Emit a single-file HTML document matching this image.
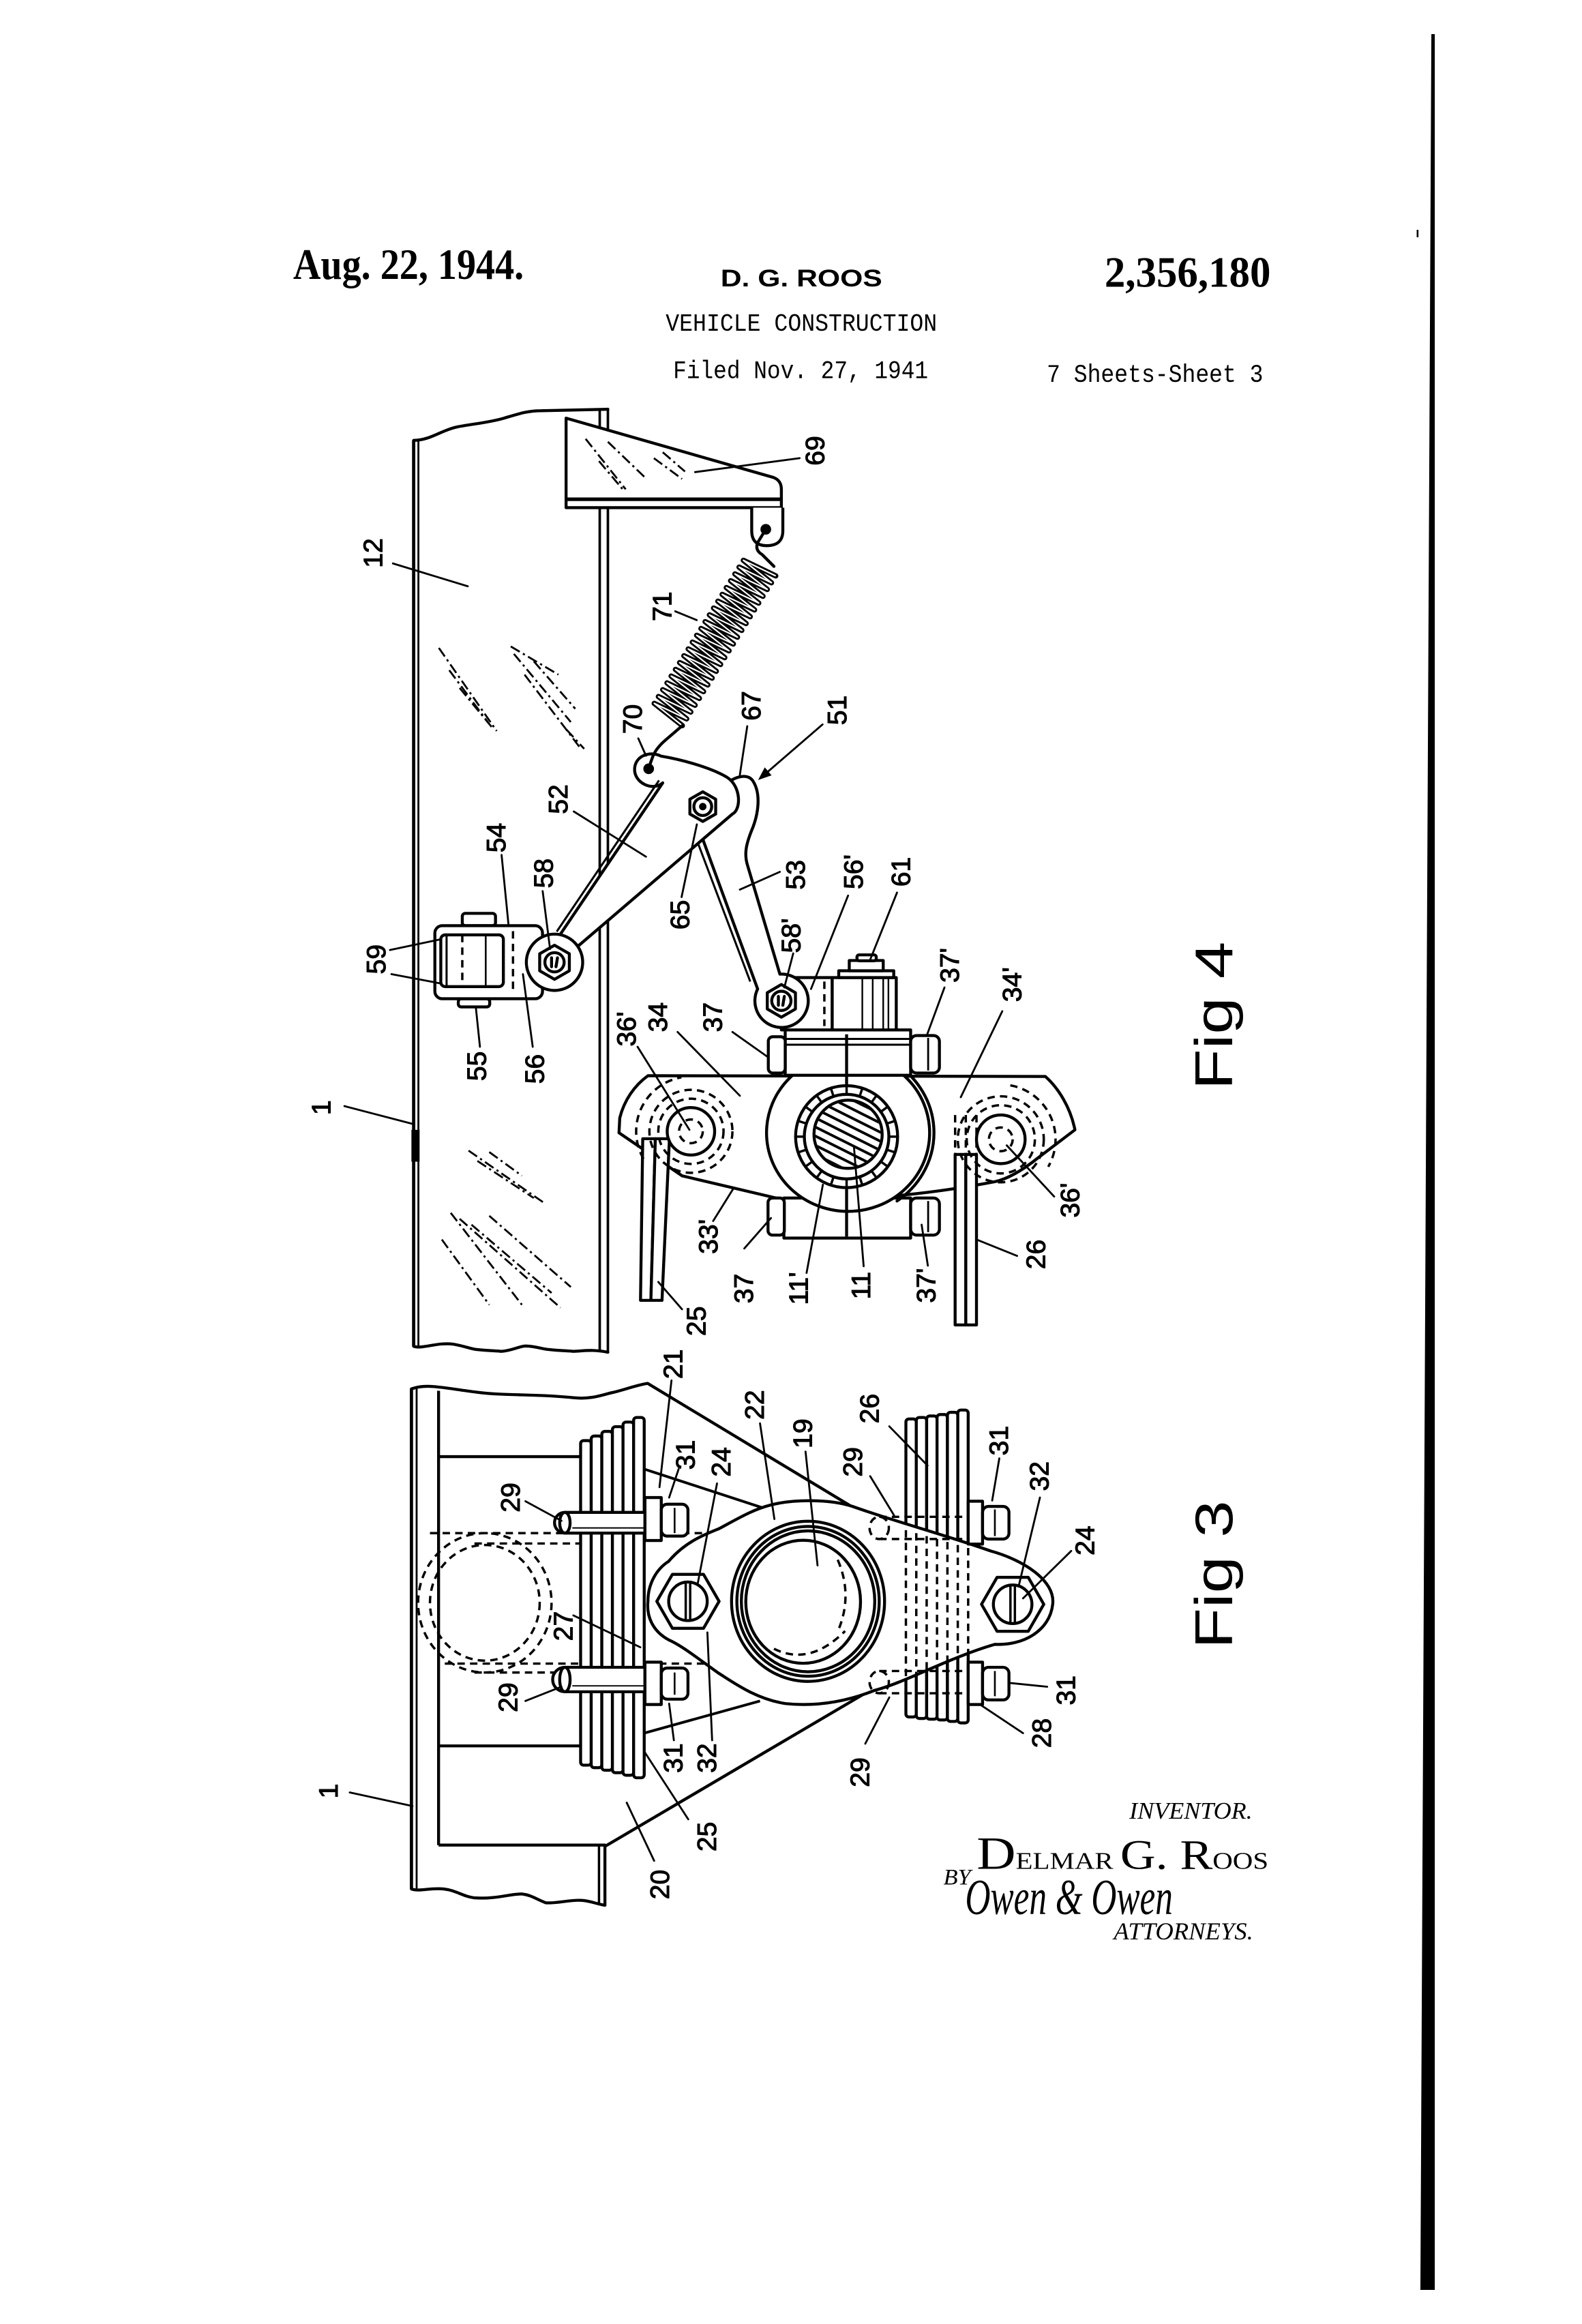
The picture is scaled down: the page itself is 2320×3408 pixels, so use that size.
<!DOCTYPE html>
<html><head><meta charset="utf-8"><style>
html,body{margin:0;padding:0;background:#fff}
svg{display:block}
</style></head><body>
<svg xmlns="http://www.w3.org/2000/svg" width="2320" height="3408" viewBox="0 0 1067 1567.4" preserveAspectRatio="none">
<defs>
<style>
.s{fill:none;stroke:#000;stroke-width:2;stroke-linejoin:round;stroke-linecap:round}
.w{fill:#fff;stroke:#000;stroke-width:2;stroke-linejoin:round}
.l{fill:none;stroke:#000;stroke-width:1.3;stroke-linecap:round}
.d{fill:none;stroke:#000;stroke-width:1.6;stroke-dasharray:5 3.5}
.h{fill:none;stroke:#000;stroke-width:1.3;stroke-dasharray:7 2.5 1.5 2.5}
.n{font-family:"Liberation Sans",sans-serif;font-size:18px;fill:#000;stroke:#000;stroke-width:0.5}
</style>
<clipPath id="sh"><circle cx="572" cy="765" r="22"/></clipPath>
</defs>
<rect x="0" y="0" width="1067" height="1567.4" fill="#fff"/>

<!-- HEADER -->
<text x="197.7" y="188" font-family="Liberation Serif" font-weight="bold" font-size="29" textLength="155.6" lengthAdjust="spacingAndGlyphs">Aug. 22, 1944.</text>
<text x="486" y="193.2" font-family="Liberation Sans" font-weight="bold" font-size="16" textLength="109" lengthAdjust="spacingAndGlyphs">D. G. ROOS</text>
<text x="745" y="193.5" font-family="Liberation Serif" font-weight="bold" font-size="29" textLength="112" lengthAdjust="spacingAndGlyphs">2,356,180</text>
<text x="449" y="223" font-family="Liberation Mono" font-size="16.5" textLength="183" lengthAdjust="spacingAndGlyphs">VEHICLE CONSTRUCTION</text>
<text x="454" y="255" font-family="Liberation Mono" font-size="17" textLength="172" lengthAdjust="spacingAndGlyphs">Filed Nov. 27, 1941</text>
<text x="706" y="257.5" font-family="Liberation Mono" font-size="17" textLength="146" lengthAdjust="spacingAndGlyphs">7 Sheets-Sheet 3</text>

<!-- right bar -->
<polygon points="965.4,23 967.7,23 967.7,1544.4 958,1544.4" fill="#000"/>
<rect x="955.5" y="155" width="1.2" height="5" fill="#000"/>

<!-- ================= FIG 4 ================= -->
<line x1="279" y1="297" x2="279" y2="908" stroke="#000" stroke-width="2.2"/>
<line x1="282.2" y1="297" x2="282.2" y2="908" stroke="#000" stroke-width="1.3"/>
<rect x="277.5" y="762" width="5.5" height="21.5" fill="#000"/>
<path class="s" d="M279,297 C290,297 298,290 308,288 C318,286 330,285 340,282 C350,279 356,277 365,277 L410,276"/>
<line x1="404.5" y1="277" x2="404.5" y2="911" stroke="#000" stroke-width="1.7"/>
<line x1="410" y1="276" x2="410" y2="912" stroke="#000" stroke-width="1.7"/>
<path class="s" d="M279,908 C285,910 295,905 306,906.6 C314,908 318,910 322,910.2 C330,911 334,911 338,911.4 C345,911 350,908 354.4,907.8 C362,908 366,910 370.6,910.2 C378,911 383,911 386.7,911.4 C395,911 400,910 410,912"/>

<g class="h">
<line x1="296" y1="437" x2="335" y2="493"/>
<line x1="303" y1="452" x2="329" y2="487"/>
<line x1="310" y1="464" x2="333" y2="492"/>
<line x1="344.5" y1="436" x2="376.6" y2="455"/>
<line x1="346.6" y1="441" x2="385" y2="487"/>
<line x1="353.8" y1="455" x2="391" y2="504"/>
<line x1="360" y1="446" x2="388" y2="478"/>
<line x1="382" y1="492" x2="394" y2="505"/>
<line x1="316" y1="776" x2="368" y2="812"/>
<line x1="322" y1="783" x2="360" y2="808"/>
<line x1="330" y1="777" x2="352" y2="793"/>
<line x1="304" y1="818" x2="352" y2="880"/>
<line x1="310" y1="822" x2="378" y2="882"/>
<line x1="318" y1="826" x2="372" y2="872"/>
<line x1="330" y1="820" x2="385" y2="868"/>
<line x1="298" y1="836" x2="330" y2="880"/>
</g>

<path class="w" d="M381.8,282 L521.6,322 Q527,324 527,330 L527,342.4 L381.8,342.4 Z"/>
<line x1="381.8" y1="336.7" x2="527" y2="336.7" stroke="#000" stroke-width="2.4"/>
<path class="w" d="M507,342.4 L507,358 Q507,368 517,368 Q528,368 528,358 L528,342.4"/>
<circle cx="516.5" cy="357" r="3.6" fill="#000"/>
<g class="h">
<line x1="395" y1="296" x2="422" y2="330"/>
<line x1="404" y1="311" x2="420" y2="330"/>
<line x1="410" y1="298" x2="435" y2="322"/>
<line x1="441" y1="309" x2="460" y2="323"/>
<line x1="447" y1="305" x2="462" y2="318"/>
</g>

<path class="s" stroke-width="2.2" d="M516.5,357 L511,366 Q509,371 514,374 L522,382"/>
<polyline fill="none" stroke="#000" stroke-width="3.6" stroke-linejoin="round" stroke-linecap="round" points="523.2,388.4 501.4,377.9 520.3,393.0 498.5,382.5 517.5,397.5 495.7,387.1 514.6,402.1 492.8,391.7 511.7,406.7 489.9,396.3 508.9,411.3 487.1,400.9 506.0,415.9 484.2,405.5 503.2,420.5 481.3,410.1 500.3,425.1 478.5,414.7 497.4,429.7 475.6,419.3 494.6,434.3 472.8,423.9 491.7,438.9 469.9,428.5 488.8,443.5 467.0,433.1 486.0,448.1 464.2,437.7 483.1,452.7 461.3,442.3 480.3,457.3 458.4,446.9 477.4,461.9 455.6,451.5 474.5,466.4 452.7,456.0 471.7,471.0 449.9,460.6 468.8,475.6 447.0,465.2 465.9,480.2 444.1,469.8 463.1,484.8 441.3,474.4 460.2,489.4"/>
<polyline fill="none" stroke="#fff" stroke-width="1" stroke-linejoin="round" points="523.2,388.4 501.4,377.9 520.3,393.0 498.5,382.5 517.5,397.5 495.7,387.1 514.6,402.1 492.8,391.7 511.7,406.7 489.9,396.3 508.9,411.3 487.1,400.9 506.0,415.9 484.2,405.5 503.2,420.5 481.3,410.1 500.3,425.1 478.5,414.7 497.4,429.7 475.6,419.3 494.6,434.3 472.8,423.9 491.7,438.9 469.9,428.5 488.8,443.5 467.0,433.1 486.0,448.1 464.2,437.7 483.1,452.7 461.3,442.3 480.3,457.3 458.4,446.9 477.4,461.9 455.6,451.5 474.5,466.4 452.7,456.0 471.7,471.0 449.9,460.6 468.8,475.6 447.0,465.2 465.9,480.2 444.1,469.8 463.1,484.8 441.3,474.4 460.2,489.4"/>

<path class="w" stroke-width="2.2" d="M437,725.5 L705,726 C714,734 722,747 725,762 L700,781 C690,789 680,795 671,797 C650,801 630,804 609,806 L532,810 L460,793 L417.5,764 L418,754 C421,742 428,732 437,725.5 Z"/>

<polygon class="w" stroke-width="1.8" points="433.5,768 442,768 439,877 432,877"/>
<polygon class="w" stroke-width="1.8" points="442,768 451.5,768 446.5,877 439,877"/>
<polygon class="w" stroke-width="1.8" points="644.2,778.6 651.4,778.6 651.4,893.6 644.2,893.6"/>
<polygon class="w" stroke-width="1.8" points="651.4,778.6 658.6,778.6 658.6,893.6 651.4,893.6"/>
<g class="d" stroke-width="1.3">
<line x1="644.2" y1="752" x2="644.2" y2="778"/>
<line x1="651.4" y1="752" x2="651.4" y2="778"/>
<line x1="658.6" y1="752" x2="658.6" y2="778"/>
</g>

<circle cx="466" cy="763" r="15" fill="#fff"/>
<circle cx="466" cy="763" r="16" class="s" stroke-width="2.6"/>
<circle cx="466" cy="763" r="22" class="d"/>
<circle cx="466" cy="763" r="28" class="d"/>
<circle cx="466" cy="763" r="8" class="d" stroke-dasharray="3 2.5"/>
<path class="d" d="M434,781.5 A37,37 0 0 1 459.6,726.6"/>
<circle cx="675" cy="768.4" r="15" fill="#fff"/>
<circle cx="675" cy="768.4" r="16.4" class="s" stroke-width="2.6"/>
<circle cx="675" cy="768.4" r="23" class="d"/>
<circle cx="675" cy="768.4" r="29" class="d"/>
<circle cx="675" cy="768.4" r="8" class="d" stroke-dasharray="3 2.5"/>
<path class="d" d="M681.4,732 A37,37 0 0 1 707,786.9"/>

<rect class="w" x="528.7" y="808" width="85.5" height="27"/>
<rect class="w" x="518" y="808" width="11" height="25" rx="3"/>
<rect class="w" x="614.2" y="808" width="19.4" height="25" rx="4"/>
<line x1="626" y1="810" x2="626" y2="831" stroke="#000" stroke-width="1.3"/>

<ellipse cx="572" cy="764" rx="55" ry="53" class="w" stroke-width="2.4"/>
<path class="s" stroke-width="1.8" d="M605,718 A58,56 0 0 1 605,810"/>
<circle cx="571" cy="766.6" r="34.4" class="w" stroke-width="2.6"/>
<circle cx="571" cy="766.6" r="28.5" class="s" stroke-width="2"/>
<g stroke="#000" stroke-width="1.6">
<line x1="599.5" y1="766.6" x2="605" y2="766.6"/><line x1="598.1" y1="775.4" x2="603.3" y2="777.1"/>
<line x1="594.1" y1="783.4" x2="598.5" y2="786.6"/><line x1="587.8" y1="789.7" x2="591" y2="794.1"/>
<line x1="579.8" y1="793.7" x2="581.5" y2="798.9"/><line x1="571" y1="795.1" x2="571" y2="800.6"/>
<line x1="562.2" y1="793.7" x2="560.5" y2="798.9"/><line x1="554.2" y1="789.7" x2="551" y2="794.1"/>
<line x1="547.9" y1="783.4" x2="543.5" y2="786.6"/><line x1="543.9" y1="775.4" x2="538.7" y2="777.1"/>
<line x1="542.5" y1="766.6" x2="537" y2="766.6"/><line x1="543.9" y1="757.8" x2="538.7" y2="756.1"/>
<line x1="547.9" y1="749.8" x2="543.5" y2="746.6"/><line x1="554.2" y1="743.5" x2="551" y2="739.1"/>
<line x1="562.2" y1="739.5" x2="560.5" y2="734.3"/><line x1="571" y1="738.1" x2="571" y2="732.6"/>
<line x1="579.8" y1="739.5" x2="581.5" y2="734.3"/><line x1="587.8" y1="743.5" x2="591" y2="739.1"/>
<line x1="594.1" y1="749.8" x2="598.5" y2="746.6"/><line x1="598.1" y1="757.8" x2="603.3" y2="756.1"/>
</g>
<circle cx="572" cy="765" r="23" class="w" stroke-width="2.6"/>
<g clip-path="url(#sh)" stroke="#000" stroke-width="1.8">
<line x1="555" y1="731.9" x2="608.6" y2="758.7"/><line x1="552.6" y1="736.8" x2="606.2" y2="763.6"/>
<line x1="550.1" y1="741.8" x2="603.7" y2="768.6"/><line x1="547.7" y1="746.7" x2="601.3" y2="773.5"/>
<line x1="545.2" y1="751.6" x2="598.8" y2="778.4"/><line x1="542.7" y1="756.5" x2="596.3" y2="783.3"/>
<line x1="540.3" y1="761.4" x2="593.9" y2="788.2"/><line x1="537.8" y1="766.4" x2="591.4" y2="793.2"/>
<line x1="535.4" y1="771.3" x2="589" y2="798.1"/>
</g>
<line x1="571" y1="800.4" x2="571" y2="834" stroke="#000" stroke-width="2"/>

<rect class="w" x="529.6" y="694.6" width="84.6" height="30.6"/>
<line x1="529.6" y1="700.7" x2="614.2" y2="700.7" stroke="#000" stroke-width="1.4"/>
<line x1="529.6" y1="704.6" x2="614.2" y2="704.6" stroke="#000" stroke-width="1.4"/>
<rect class="w" x="518.2" y="699.2" width="11.4" height="24.5" rx="3"/>
<rect class="w" x="614.2" y="698.4" width="19.4" height="25.3" rx="4"/>
<line x1="626" y1="700" x2="626" y2="722" stroke="#000" stroke-width="1.3"/>
<line x1="571" y1="697.6" x2="571" y2="733" stroke="#000" stroke-width="2"/>

<rect class="w" x="527" y="659.3" width="34.3" height="35.3"/>
<line x1="556" y1="662" x2="556" y2="692" class="d" stroke-width="1.3"/>
<rect class="w" x="561.3" y="659.3" width="43.2" height="35.3"/>
<rect class="w" x="565.7" y="654.7" width="37.1" height="4.6"/>
<rect class="w" x="572.8" y="647.8" width="22.9" height="6.9"/>
<rect class="w" x="578" y="644" width="13" height="4" rx="1.5"/>
<g stroke="#000" stroke-width="1.1">
<line x1="581.6" y1="660" x2="581.6" y2="694"/><line x1="588.6" y1="660" x2="588.6" y2="694"/>
<line x1="595.7" y1="660" x2="595.7" y2="694"/><line x1="599.2" y1="660" x2="599.2" y2="694"/>
</g>

<path class="w" d="M474,566 L511,667 A18,18 0 1 0 526,657 L504,583 C502,576 503,570 507,560 C512,548 513,535 508,527 C505,522 498,523 492,527 Z"/>
<line x1="470.5" y1="568" x2="506" y2="662" stroke="#000" stroke-width="1.4"/>
<polygon class="w" points="527,664 536.5,669.5 536.5,680.5 527,686 517.5,680.5 517.5,669.5"/>
<circle cx="527" cy="675" r="6.5" class="s" stroke-width="2"/>
<path class="s" stroke-width="1.3" d="M525,672 L525,678 M529,672 L528,678"/>

<rect class="w" x="311.8" y="616" width="22.4" height="8.3" rx="2"/>
<rect class="w" x="309.1" y="673.6" width="21.2" height="5.5" rx="2"/>
<rect class="w" x="293.3" y="624.3" width="72.6" height="49.3" rx="5"/>
<rect class="w" x="297.3" y="630.5" width="42.2" height="34.9" rx="3"/>
<line x1="301.2" y1="630.5" x2="301.2" y2="665.4" stroke="#000" stroke-width="1.4"/>
<line x1="327.6" y1="630.5" x2="327.6" y2="665.4" stroke="#000" stroke-width="1.2"/>
<line x1="311.8" y1="630.5" x2="311.8" y2="665.4" class="d" stroke-width="1.3"/>
<line x1="346" y1="628" x2="346" y2="670" class="d" stroke-width="1.3"/>

<path class="w" d="M447,528 C440,534 428,528 428,519 C428,510 438,506 446,510 C458,512 478,517 490,524 C500,530 500,546 494,549 L390,638 L378,630 Z"/>
<line x1="444.5" y1="526.3" x2="375.5" y2="628.3" stroke="#000" stroke-width="1.4"/>
<circle cx="437.5" cy="518.5" r="3.6" fill="#000"/>
<path class="s" stroke-width="2.2" d="M460.2,489.4 L449,499 Q442,505 440,511 L437.5,518"/>
<circle cx="374" cy="649" r="19" class="w"/>
<polygon class="w" points="374,637.5 384,643.25 384,654.75 374,660.5 364,654.75 364,643.25"/>
<circle cx="374" cy="649" r="6.5" class="s" stroke-width="2"/>
<path class="s" stroke-width="1.3" d="M372,646 L372,652 M376,646 L375,652"/>
<polygon class="w" points="474,534 482.7,539 482.7,549 474,554 465.3,549 465.3,539"/>
<circle cx="474" cy="544" r="6" class="s" stroke-width="2"/>
<circle cx="474" cy="544" r="2.5" fill="#000"/>

<g class="l">
<line x1="468.8" y1="318.4" x2="539.3" y2="309"/>
<line x1="455.4" y1="412.3" x2="469.9" y2="418.2"/>
<line x1="430.5" y1="498" x2="435.7" y2="509.7"/>
<line x1="504" y1="489.8" x2="499" y2="522.6"/>
<line x1="554.8" y1="488.6" x2="514" y2="523.8"/>
<line x1="387" y1="547.3" x2="435.7" y2="577.8"/>
<line x1="459.7" y1="605" x2="470" y2="556"/>
<line x1="526" y1="588" x2="499" y2="600"/>
<line x1="572" y1="604" x2="547" y2="667"/>
<line x1="605" y1="602" x2="587" y2="647"/>
<line x1="535" y1="643" x2="529" y2="666"/>
<line x1="338.3" y1="576.6" x2="343" y2="624"/>
<line x1="366" y1="601" x2="371" y2="640"/>
<line x1="263" y1="640.7" x2="297.3" y2="633.5"/>
<line x1="264" y1="657" x2="297.3" y2="663.3"/>
<line x1="323.7" y1="706" x2="321" y2="680"/>
<line x1="359.3" y1="706" x2="352.7" y2="657"/>
<line x1="430" y1="706" x2="465" y2="762"/>
<line x1="457" y1="696" x2="499" y2="739"/>
<line x1="494" y1="696" x2="518" y2="713"/>
<line x1="637" y1="666" x2="625" y2="698.6"/>
<line x1="676" y1="682" x2="648" y2="740"/>
<line x1="711" y1="807" x2="679" y2="772.5"/>
<line x1="686" y1="847" x2="658.6" y2="836"/>
<line x1="625.8" y1="853.6" x2="621.6" y2="826"/>
<line x1="582.5" y1="854" x2="576" y2="774"/>
<line x1="544" y1="858.5" x2="555" y2="799"/>
<line x1="502" y1="842" x2="520" y2="821.5"/>
<line x1="481" y1="823.5" x2="495" y2="801"/>
<line x1="460" y1="883" x2="444" y2="864.6"/>
<line x1="232.3" y1="746" x2="278.3" y2="758"/>
<line x1="265" y1="380" x2="315.5" y2="395.4"/>
</g>
<polygon points="511.3,526.1 520.4,522.9 515.8,517.5" fill="#000"/>

<g class="n" text-anchor="middle" dominant-baseline="central">
<text transform="translate(550,304) rotate(-90)">69</text>
<text transform="translate(447,409) rotate(-90)">71</text>
<text transform="translate(427,485) rotate(-90)">70</text>
<text transform="translate(507,476) rotate(-90)">67</text>
<text transform="translate(565,479) rotate(-90)">51</text>
<text transform="translate(377,539) rotate(-90)">52</text>
<text transform="translate(459,617) rotate(-90)">65</text>
<text transform="translate(537,590) rotate(-90)">53</text>
<text transform="translate(576,588) rotate(-90)">56'</text>
<text transform="translate(608,588) rotate(-90)">61</text>
<text transform="translate(534,631) rotate(-90)">58'</text>
<text transform="translate(335,565) rotate(-90)">54</text>
<text transform="translate(367,589) rotate(-90)">58</text>
<text transform="translate(254,647) rotate(-90)">59</text>
<text transform="translate(322,719) rotate(-90)">55</text>
<text transform="translate(361,721) rotate(-90)">56</text>
<text transform="translate(423,694) rotate(-90)">36'</text>
<text transform="translate(444,686) rotate(-90)">34</text>
<text transform="translate(481,686) rotate(-90)">37</text>
<text transform="translate(641,651) rotate(-90)">37'</text>
<text transform="translate(683,664) rotate(-90)">34'</text>
<text transform="translate(722,809.5) rotate(-90)">36'</text>
<text transform="translate(699,846) rotate(-90)">26</text>
<text transform="translate(625,867) rotate(-90)">37'</text>
<text transform="translate(581,867) rotate(-90)">11</text>
<text transform="translate(539,869) rotate(-90)">11'</text>
<text transform="translate(502,869) rotate(-90)">37</text>
<text transform="translate(478,834) rotate(-90)">33'</text>
<text transform="translate(470,891) rotate(-90)">25</text>
<text transform="translate(217,747) rotate(-90)">1</text>
<text transform="translate(252,373) rotate(-90)">12</text>
</g>
<text transform="translate(831,685) rotate(-90)" text-anchor="middle" font-family="Liberation Sans" font-size="36" textLength="100" lengthAdjust="spacingAndGlyphs">Fig 4</text>

<!-- ================= FIG 3 ================= -->
<line x1="277.5" y1="936.7" x2="277.5" y2="1274" stroke="#000" stroke-width="2.2"/>
<line x1="281" y1="936" x2="281" y2="1275" stroke="#000" stroke-width="1.3"/>
<path class="s" d="M277.5,936.7 C288,933 298,936 322,939 C342,941.5 362,940 387,942.7 C400,944 408,940 414,939 C422,937 430,934 436.8,933"/>
<line x1="295.8" y1="938" x2="295.8" y2="1244.4" stroke="#000" stroke-width="2"/>
<line x1="295.8" y1="1244.4" x2="408.5" y2="1244.4" stroke="#000" stroke-width="2"/>
<line x1="404" y1="1244.4" x2="404" y2="1284" stroke="#000" stroke-width="1.6"/>
<line x1="408" y1="1244.4" x2="408" y2="1285" stroke="#000" stroke-width="2"/>
<line x1="295.8" y1="982.4" x2="391.6" y2="982.4" stroke="#000" stroke-width="2"/>
<line x1="295.8" y1="1177.5" x2="391.6" y2="1177.5" stroke="#000" stroke-width="2"/>
<path class="s" d="M277.5,1274 C283,1276 290,1273 299.3,1274 C308,1275 312,1279 320,1280 C335,1281 345,1277 352.2,1277.4 C358,1278 362,1281 368,1283.3 C375,1284 385,1281 392.7,1281.7 C398,1282 402,1284 408,1285"/>
<line x1="436.8" y1="933" x2="580.4" y2="1019.7" stroke="#000" stroke-width="2"/>
<line x1="408.5" y1="1245" x2="586.9" y2="1140" stroke="#000" stroke-width="2"/>
<line x1="434.5" y1="990.8" x2="515.5" y2="1017.3" stroke="#000" stroke-width="1.8"/>
<line x1="434.5" y1="1168.9" x2="512.6" y2="1147.2" stroke="#000" stroke-width="1.8"/>

<ellipse cx="327" cy="1081" rx="45" ry="47" class="d" stroke-width="1.8"/>
<ellipse cx="327" cy="1081" rx="37" ry="39" class="d" stroke-width="1.5"/>
<g class="d" stroke-width="1.5">
<line x1="290" y1="1034" x2="600" y2="1034"/>
<line x1="320" y1="1041" x2="392" y2="1041"/>
<line x1="300" y1="1122" x2="600" y2="1122"/>
<line x1="320" y1="1128" x2="392" y2="1128"/>
</g>

<g class="w" stroke-width="1.7">
<rect x="391.6" y="971.6" width="7.15" height="218.9" rx="2"/>
<rect x="398.75" y="968.5" width="7.15" height="223.7" rx="2"/>
<rect x="405.9" y="965.4" width="7.15" height="228.5" rx="2"/>
<rect x="413.05" y="962.2" width="7.15" height="233.4" rx="2"/>
<rect x="420.2" y="959.1" width="7.15" height="238.2" rx="2"/>
<rect x="427.35" y="956" width="7.15" height="243" rx="2"/>
</g>
<path class="w" d="M435,1020 L381,1020 A7,7 0 0 0 381,1034 L435,1034 Z"/>
<ellipse cx="381" cy="1027" rx="3.5" ry="7" class="s" stroke-width="1.2"/>
<line x1="386" y1="1030.5" x2="435" y2="1030.5" stroke="#000" stroke-width="0.9"/>
<path class="w" d="M435,1124.5 L381,1124.5 A8.25,8.25 0 0 0 381,1141 L435,1141 Z"/>
<ellipse cx="381" cy="1132.75" rx="3.5" ry="8.25" class="s" stroke-width="1.2"/>
<line x1="386" y1="1137" x2="435" y2="1137" stroke="#000" stroke-width="0.9"/>
<rect class="w" x="435" y="1010" width="11" height="29"/>
<rect class="w" x="446" y="1014.5" width="18" height="21.5" rx="4"/>
<line x1="455" y1="1017" x2="455" y2="1034" stroke="#000" stroke-width="1.2"/>
<rect class="w" x="435" y="1121" width="11" height="28.6"/>
<rect class="w" x="446" y="1125" width="18" height="21" rx="4"/>
<line x1="455" y1="1128" x2="455" y2="1143" stroke="#000" stroke-width="1.2"/>

<g class="w" stroke-width="1.7">
<rect x="611" y="957" width="7" height="201" rx="2"/>
<rect x="618" y="956" width="7" height="203" rx="2"/>
<rect x="625" y="955" width="7" height="204.5" rx="2"/>
<rect x="632" y="954" width="7" height="206" rx="2"/>
<rect x="639" y="952.5" width="7" height="208.5" rx="2"/>
<rect x="646" y="951" width="7" height="211" rx="2"/>
</g>

<path class="w" stroke-width="2.3" d="M451,1053 C462,1040 475,1035 485,1031 C498,1024 508,1018 520,1015 C535,1011 560,1011 575,1016 C600,1025 640,1036 668,1046 C690,1052 712,1066 710,1082 C708,1100 690,1110 671,1109 C640,1118 610,1135 590,1140 C570,1148 550,1151 530,1149 C510,1146 495,1135 484,1128 C470,1118 460,1110 451,1106 C440,1100 436,1090 437,1080 C437,1068 443,1058 451,1053 Z"/>
<g class="d" stroke-width="1.3">
<line x1="611" y1="1032" x2="611" y2="1131"/>
<line x1="618" y1="1034" x2="618" y2="1129"/>
<line x1="625" y1="1036" x2="625" y2="1127"/>
<line x1="632" y1="1038" x2="632" y2="1125"/>
<line x1="639" y1="1040" x2="639" y2="1122"/>
<line x1="646" y1="1042" x2="646" y2="1120"/>
<line x1="653" y1="1044" x2="653" y2="1117"/>
<ellipse cx="593" cy="1030.5" rx="6.5" ry="7.5"/>
<line x1="593" y1="1023" x2="653" y2="1023"/>
<line x1="593" y1="1038" x2="653" y2="1038"/>
<ellipse cx="593" cy="1134.5" rx="6.5" ry="7.5"/>
<line x1="593" y1="1127" x2="653" y2="1127"/>
<line x1="593" y1="1142" x2="653" y2="1142"/>
</g>

<ellipse cx="545" cy="1080" rx="51.6" ry="54" class="w" stroke-width="2.4"/>
<ellipse cx="545" cy="1080" rx="48" ry="50.5" class="s" stroke-width="1.6"/>
<ellipse cx="545" cy="1080" rx="45" ry="47.5" class="s" stroke-width="1.3"/>
<ellipse cx="541.7" cy="1080.3" rx="38.7" ry="41.5" class="s" stroke-width="2.2"/>
<path class="d" stroke-width="1.1" d="M522,1112 Q546,1124 570,1100"/>
<path class="d" stroke-width="1.1" d="M565,1052 Q575,1075 566,1098"/>

<polygon class="w" points="485,1080 474.5,1061.8 453.5,1061.8 443,1080 453.5,1098.2 474.5,1098.2"/>
<circle cx="464" cy="1080" r="13" class="s" stroke-width="3"/>
<line x1="462.5" y1="1068" x2="462.5" y2="1092" stroke="#000" stroke-width="1.6"/>
<line x1="465.5" y1="1068" x2="465.5" y2="1092" stroke="#000" stroke-width="1.6"/>
<polygon class="w" points="704,1082 693.5,1063.8 672.5,1063.8 662,1082 672.5,1100.2 693.5,1100.2"/>
<circle cx="683" cy="1082" r="13" class="s" stroke-width="3"/>
<line x1="681.5" y1="1070" x2="681.5" y2="1094" stroke="#000" stroke-width="1.6"/>
<line x1="684.5" y1="1070" x2="684.5" y2="1094" stroke="#000" stroke-width="1.6"/>

<rect class="w" x="653" y="1012.5" width="9.7" height="28.9"/>
<rect class="w" x="662.7" y="1016" width="17.8" height="22" rx="4"/>
<line x1="671" y1="1018" x2="671" y2="1036" stroke="#000" stroke-width="1.2"/>
<rect class="w" x="653" y="1121" width="9.7" height="28.6"/>
<rect class="w" x="662.7" y="1124.5" width="17.8" height="22" rx="4"/>
<line x1="671" y1="1127" x2="671" y2="1144" stroke="#000" stroke-width="1.2"/>

<g class="l">
<line x1="452.9" y1="931" x2="444.8" y2="1003"/>
<line x1="512.6" y1="960" x2="522.3" y2="1024.5"/>
<line x1="543.3" y1="979" x2="551.4" y2="1055.8"/>
<line x1="599.8" y1="962" x2="625.6" y2="988.4"/>
<line x1="586.9" y1="995.6" x2="603" y2="1022"/>
<line x1="674" y1="983.6" x2="669.2" y2="1012"/>
<line x1="701.4" y1="1010" x2="687" y2="1070"/>
<line x1="722.5" y1="1046" x2="690" y2="1078"/>
<line x1="457.7" y1="990.8" x2="451.3" y2="1010"/>
<line x1="483.6" y1="1000.5" x2="470.6" y2="1068"/>
<line x1="354.4" y1="1012.5" x2="378.7" y2="1025.7"/>
<line x1="386.7" y1="1089.5" x2="431.9" y2="1111"/>
<line x1="354.4" y1="1147.2" x2="378.7" y2="1137.6"/>
<line x1="454.5" y1="1173.7" x2="451.3" y2="1149"/>
<line x1="480.3" y1="1173.7" x2="477.1" y2="1101"/>
<line x1="464.2" y1="1227" x2="435" y2="1182"/>
<line x1="441.2" y1="1255" x2="422.7" y2="1215.8"/>
<line x1="583.6" y1="1176" x2="599.8" y2="1144.8"/>
<line x1="690" y1="1168.9" x2="661" y2="1149.6"/>
<line x1="706.3" y1="1137.6" x2="680.5" y2="1135"/>
<line x1="235.9" y1="1208.9" x2="278.2" y2="1218.1"/>
</g>
<g class="n" text-anchor="middle" dominant-baseline="central">
<text transform="translate(454.5,920) rotate(-90)">21</text>
<text transform="translate(509.4,947.5) rotate(-90)">22</text>
<text transform="translate(541.7,966.8) rotate(-90)">19</text>
<text transform="translate(586.9,950) rotate(-90)">26</text>
<text transform="translate(575.6,986) rotate(-90)">29</text>
<text transform="translate(674,971.6) rotate(-90)">31</text>
<text transform="translate(701.4,995.6) rotate(-90)">32</text>
<text transform="translate(732.1,1039) rotate(-90)">24</text>
<text transform="translate(462.6,981.2) rotate(-90)">31</text>
<text transform="translate(486.8,986) rotate(-90)">24</text>
<text transform="translate(344.8,1010) rotate(-90)">29</text>
<text transform="translate(380.3,1096.7) rotate(-90)">27</text>
<text transform="translate(343.1,1144.8) rotate(-90)">29</text>
<text transform="translate(454.5,1185.7) rotate(-90)">31</text>
<text transform="translate(477.1,1185.7) rotate(-90)">32</text>
<text transform="translate(477.1,1238.7) rotate(-90)">25</text>
<text transform="translate(445.5,1271) rotate(-90)">20</text>
<text transform="translate(580.4,1195.3) rotate(-90)">29</text>
<text transform="translate(703,1168.9) rotate(-90)">28</text>
<text transform="translate(719.2,1140) rotate(-90)">31</text>
<text transform="translate(222,1208) rotate(-90)">1</text>
</g>
<text transform="translate(831,1062) rotate(-90)" text-anchor="middle" font-family="Liberation Sans" font-size="36" textLength="100" lengthAdjust="spacingAndGlyphs">Fig 3</text>

<!-- INVENTOR BLOCK -->
<text x="761.7" y="1226.7" font-family="Liberation Serif" font-style="italic" font-size="16" textLength="83" lengthAdjust="spacingAndGlyphs">INVENTOR.</text>
<text x="658.7" y="1260.5" font-family="Liberation Serif" textLength="196.8" lengthAdjust="spacingAndGlyphs"><tspan font-size="31">D</tspan><tspan font-size="16">ELMAR </tspan><tspan font-size="28">G. R</tspan><tspan font-size="16">OOS</tspan></text>
<text x="636.3" y="1271" font-family="Liberation Serif" font-style="italic" font-size="15" textLength="18.5" lengthAdjust="spacingAndGlyphs">BY</text>
<text x="651" y="1291" font-family="Liberation Serif" font-style="italic" font-size="34" textLength="140" lengthAdjust="spacingAndGlyphs">Owen &amp; Owen</text>
<text x="751.2" y="1307.9" font-family="Liberation Serif" font-style="italic" font-size="16.5" textLength="94" lengthAdjust="spacingAndGlyphs">ATTORNEYS.</text>
</svg>
</body></html>
